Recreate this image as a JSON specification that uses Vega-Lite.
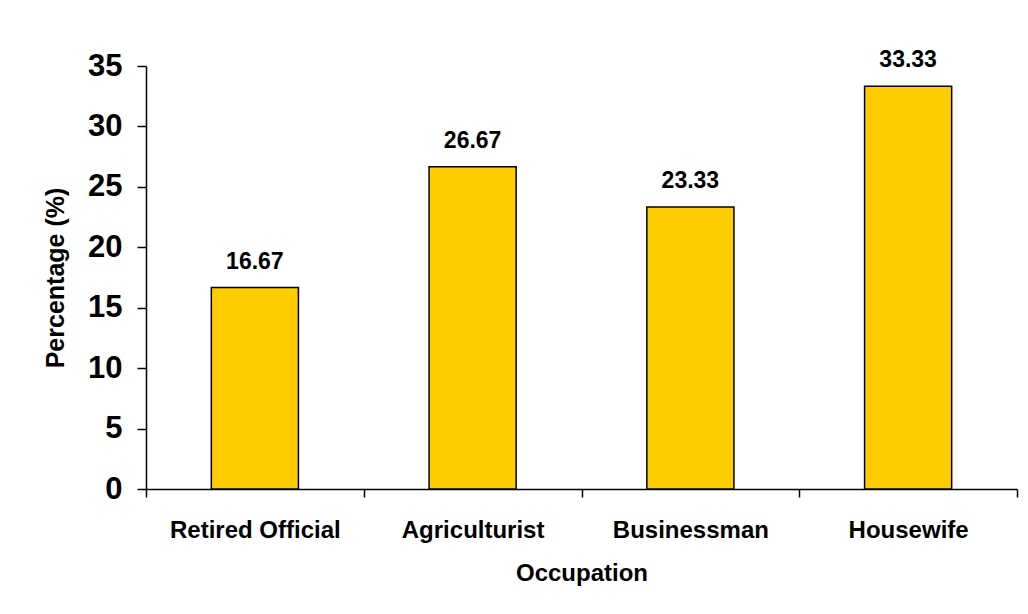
{
  "$schema": "https://vega.github.io/schema/vega-lite/v6.json",
  "width": 871,
  "height": 423,
  "autosize": {"type": "none"},
  "padding": {"left": 146, "top": 66, "right": 11, "bottom": 125},
  "background": "white",
  "config": {
    "view": {"stroke": null},
    "font": "Liberation Sans"
  },
  "data": {
    "values": [
      {"Occupation": "Retired Official", "Percentage": 16.67},
      {"Occupation": "Agriculturist", "Percentage": 26.67},
      {"Occupation": "Businessman", "Percentage": 23.33},
      {"Occupation": "Housewife", "Percentage": 33.33}
    ]
  },
  "encoding": {
    "x": {
      "field": "Occupation",
      "type": "nominal",
      "sort": null,
      "scale": {"paddingInner": 0, "paddingOuter": 0},
      "axis": {
        "title": "Occupation",
        "labelAngle": 0,
        "tickBand": "extent",
        "tickSize": 8,
        "tickWidth": 1.5,
        "tickColor": "black",
        "domainColor": "black",
        "domainWidth": 1.5,
        "labelFont": "Liberation Sans",
        "labelFontSize": 24,
        "labelFontWeight": "bold",
        "labelColor": "black",
        "labelPadding": 21,
        "titleFont": "Liberation Sans",
        "titleFontSize": 24,
        "titleFontWeight": "bold",
        "titleColor": "black",
        "titlePadding": 19
      }
    },
    "y": {
      "field": "Percentage",
      "type": "quantitative",
      "scale": {"domain": [0, 35], "nice": false},
      "axis": {
        "title": "Percentage (%)",
        "values": [0, 5, 10, 15, 20, 25, 30, 35],
        "grid": false,
        "tickSize": 9,
        "tickWidth": 1.5,
        "tickColor": "black",
        "domainColor": "black",
        "domainWidth": 1.5,
        "labelFont": "Liberation Sans",
        "labelFontSize": 31,
        "labelFontWeight": "bold",
        "labelColor": "black",
        "labelPadding": 15,
        "titleFont": "Liberation Sans",
        "titleFontSize": 25,
        "titleFontWeight": "bold",
        "titleColor": "black",
        "titlePadding": 19
      }
    }
  },
  "layer": [
    {
      "mark": {"type": "bar", "width": {"band": 0.4}, "color": "#FFCC00", "stroke": "black", "strokeWidth": 1.5}
    },
    {
      "mark": {"type": "text", "baseline": "alphabetic", "dy": -19, "fontSize": 23, "fontWeight": "bold", "font": "Liberation Sans", "color": "black"},
      "encoding": {
        "text": {"field": "Percentage", "type": "quantitative", "format": ".2f"}
      }
    }
  ]
}
